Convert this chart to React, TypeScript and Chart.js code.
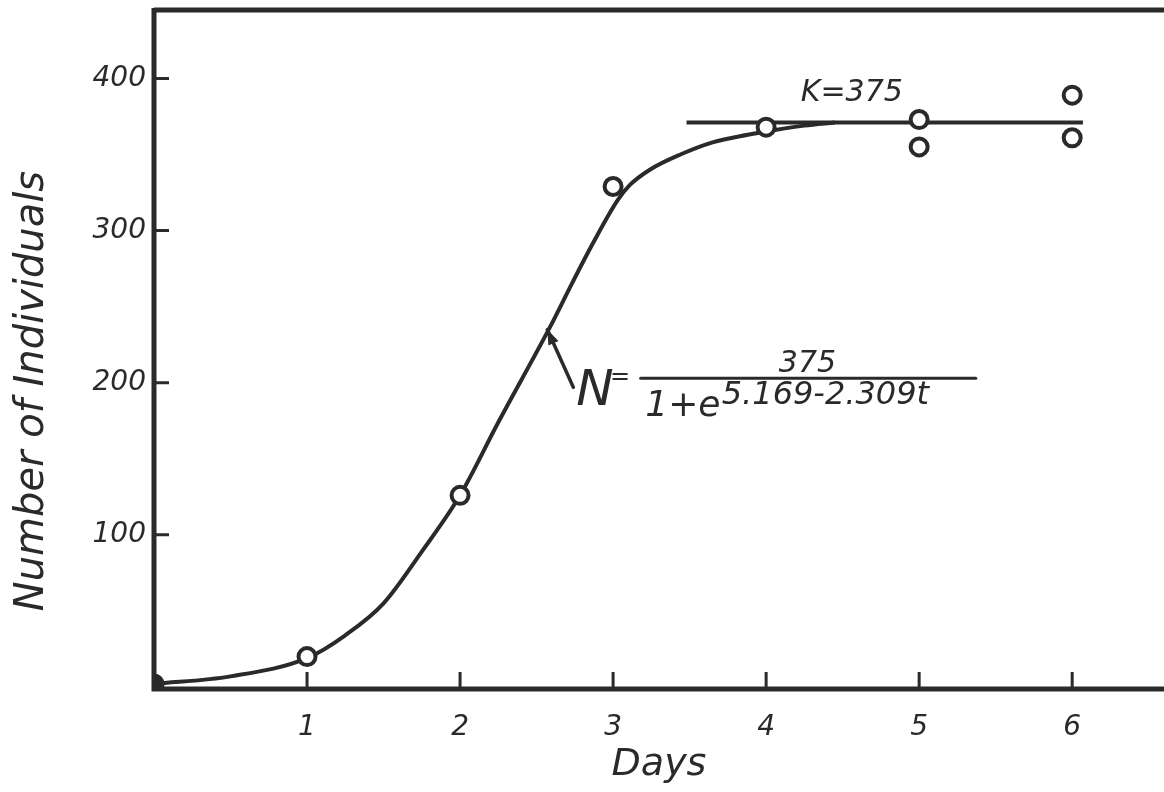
import React, { useEffect, useRef } from "react";
import { Chart, registerables } from "chart.js";

Chart.register(...registerables);

// ---- data ----
const dayTicks = [1, 2, 3, 4, 5, 6];
const countTicks = [100, 200, 300, 400];

const obsDays = [0, 1, 2, 3, 4, 5, 5, 6, 6];
const obsCounts = [2, 20, 126, 329, 368, 373, 355, 389, 361];

const curveDays = [0, 0.5, 1, 1.25, 1.5, 1.75, 2, 2.25, 2.59, 2.74, 2.87, 3.03, 3.11, 3.24, 3.44, 3.65, 3.88, 4.05, 4.25, 4.45];
const curveCounts = [2, 7, 19, 34, 55, 89, 126, 174, 237, 267, 292, 320, 330, 340, 350, 358, 363, 366, 369, 371];

const kDays = [3.48, 6.07];
const kCounts = [371, 371];

const xTitle = "Days";
const yTitle = "Number of Individuals";
const kLabel = "K=375";
const eqLeft = "N";
const eqEquals = "=";
const eqNumerator = "375";
const eqBase = "1+e";
const eqExponent = "5.169-2.309t";

const INK = "#2a2a2a";
const FONT = "'DejaVu Sans', sans-serif";

const handDrawn = {
  id: "handDrawn",
  beforeDatasetsDraw(chart: any) {
    const { ctx, chartArea: a, scales } = chart;
    const x = scales.x;
    const y = scales.y;
    ctx.save();
    ctx.strokeStyle = INK;
    ctx.lineCap = "butt";
    ctx.lineWidth = 5;
    ctx.beginPath();
    ctx.moveTo(a.left, a.top);
    ctx.lineTo(a.right, a.top);
    ctx.moveTo(a.left, a.top - 2);
    ctx.lineTo(a.left, a.bottom + 2);
    ctx.lineTo(a.right, a.bottom + 2);
    ctx.stroke();
    // inward tick marks
    ctx.lineWidth = 3;
    ctx.beginPath();
    for (const v of countTicks) {
      const py = y.getPixelForValue(v);
      ctx.moveTo(a.left, py);
      ctx.lineTo(a.left + 15, py);
    }
    for (const v of dayTicks) {
      const px = x.getPixelForValue(v);
      ctx.moveTo(px, a.bottom);
      ctx.lineTo(px, a.bottom - 15);
    }
    ctx.stroke();
    ctx.restore();
  },
  afterDraw(chart: any) {
    const { ctx, scales } = chart;
    const x = scales.x;
    const y = scales.y;
    ctx.save();
    ctx.fillStyle = INK;
    ctx.strokeStyle = INK;

    // y axis title
    ctx.save();
    ctx.translate(33, 391);
    ctx.rotate(-Math.PI / 2);
    ctx.font = `italic 40px ${FONT}`;
    ctx.textAlign = "center";
    ctx.textBaseline = "middle";
    ctx.fillText(yTitle, 0, 0);
    ctx.restore();

    // K label
    ctx.font = `italic 30px ${FONT}`;
    ctx.textAlign = "center";
    ctx.textBaseline = "middle";
    ctx.fillText(kLabel, x.getPixelForValue(4.56), y.getPixelForValue(390));

    // arrow to curve
    const tipX = x.getPixelForValue(2.57);
    const tipY = y.getPixelForValue(235);
    const tailX = x.getPixelForValue(2.74);
    const tailY = y.getPixelForValue(197);
    ctx.lineWidth = 3.5;
    ctx.lineCap = "round";
    ctx.beginPath();
    ctx.moveTo(tailX, tailY);
    ctx.lineTo(tipX, tipY);
    ctx.stroke();
    const ang = Math.atan2(tipY - tailY, tipX - tailX);
    const hl = 16;
    ctx.beginPath();
    ctx.moveTo(tipX, tipY);
    ctx.lineTo(tipX - hl * Math.cos(ang - 0.35), tipY - hl * Math.sin(ang - 0.35));
    ctx.lineTo(tipX - hl * Math.cos(ang + 0.35), tipY - hl * Math.sin(ang + 0.35));
    ctx.closePath();
    ctx.fill();

    // equation
    const barY = y.getPixelForValue(203);
    const barL = x.getPixelForValue(3.18);
    const barR = x.getPixelForValue(5.37);
    ctx.textAlign = "left";
    ctx.textBaseline = "alphabetic";
    ctx.font = `italic 50px ${FONT}`;
    ctx.fillText(eqLeft, x.getPixelForValue(2.76), barY + 27);
    ctx.font = `italic 24px ${FONT}`;
    ctx.fillText(eqEquals, x.getPixelForValue(2.98), barY + 6);
    ctx.lineWidth = 3;
    ctx.beginPath();
    ctx.moveTo(barL, barY);
    ctx.lineTo(barR, barY);
    ctx.stroke();
    ctx.font = `italic 30px ${FONT}`;
    ctx.textAlign = "center";
    ctx.fillText(eqNumerator, x.getPixelForValue(4.27), barY - 6);
    ctx.textAlign = "left";
    ctx.font = `italic 36px ${FONT}`;
    ctx.fillText(eqBase, x.getPixelForValue(3.21), barY + 38);
    ctx.font = `italic 32px ${FONT}`;
    ctx.fillText(eqExponent, x.getPixelForValue(3.71), barY + 26);

    ctx.restore();
  },
};

export default function App() {
  const ref = useRef<HTMLCanvasElement | null>(null);

  useEffect(() => {
    if (!ref.current) return;
    const chart = new Chart(ref.current, {
      type: "scatter",
      data: {
        datasets: [
          {
            type: "scatter",
            data: obsDays.map((d, i) => ({ x: d, y: obsCounts[i] })),
            pointRadius: 8.5,
            pointBorderWidth: 4,
            pointBorderColor: INK,
            pointBackgroundColor: obsDays.map((d) => (d === 0 ? INK : "#ffffff")),
          } as any,
          {
            type: "line",
            data: curveDays.map((d, i) => ({ x: d, y: curveCounts[i] })),
            borderColor: INK,
            borderWidth: 4,
            pointRadius: 0,
            cubicInterpolationMode: "monotone",
            fill: false,
          } as any,
          {
            type: "line",
            data: kDays.map((d, i) => ({ x: d, y: kCounts[i] })),
            borderColor: INK,
            borderWidth: 4,
            pointRadius: 0,
            fill: false,
          } as any,
        ],
      },
      options: {
        animation: false,
        responsive: true,
        maintainAspectRatio: false,
        layout: { autoPadding: false, padding: { top: 10, right: 0, left: 0, bottom: 0 } },
        plugins: { legend: { display: false }, tooltip: { enabled: false } },
        scales: {
          x: {
            type: "linear",
            min: 0,
            max: 6.6,
            grid: { display: false, drawTicks: false },
            border: { display: false },
            afterFit: (s: any) => {
              s.height = 105;
              s.paddingLeft = 0;
              s.paddingRight = 0;
            },
            afterBuildTicks: (s: any) => {
              s.ticks = dayTicks.map((value) => ({ value }));
            },
            ticks: {
              padding: 24,
              color: INK,
              font: { family: FONT, size: 28, style: "italic" },
              callback: (v: any) => String(v),
            },
            title: {
              display: true,
              text: xTitle,
              color: INK,
              font: { family: FONT, size: 38, style: "italic" },
              padding: { top: 0, bottom: 4 },
            },
          },
          y: {
            type: "linear",
            min: 0,
            max: 445,
            grid: { display: false, drawTicks: false },
            border: { display: false },
            afterFit: (s: any) => {
              s.width = 154;
              s.paddingTop = 0;
              s.paddingBottom = 0;
            },
            afterBuildTicks: (s: any) => {
              s.ticks = countTicks.map((value) => ({ value }));
            },
            ticks: {
              padding: 8,
              color: INK,
              font: { family: FONT, size: 28, style: "italic" },
              callback: (v: any) => String(v),
            },
          },
        },
      },
      plugins: [handDrawn],
    });
    return () => chart.destroy();
  }, []);

  return (
    <div style={{ position: "fixed", left: 0, top: 0, width: 1164, height: 792, background: "#ffffff" }}>
      <canvas ref={ref} />
    </div>
  );
}
